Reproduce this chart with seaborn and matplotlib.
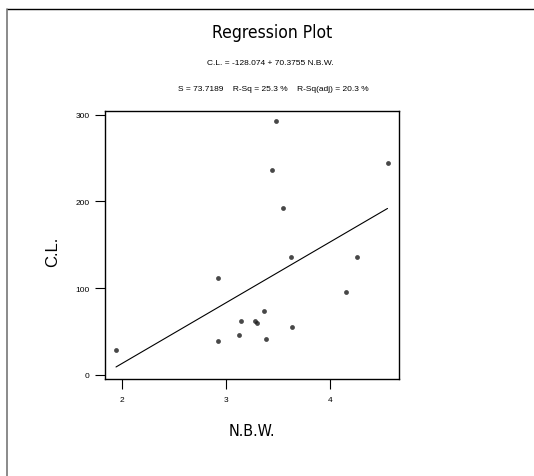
import matplotlib
matplotlib.use("Agg")
import matplotlib.pyplot as plt
from matplotlib.lines import Line2D
import seaborn as sns
import pandas as pd

# Daten
nbw = [1.94, 2.92, 2.92, 3.12, 3.14, 3.28, 3.30, 3.36, 3.38, 3.44,
       3.48, 3.55, 3.62, 3.63, 4.15, 4.26, 4.55]
cl = [28.4, 111.9, 38.7, 46.4, 61.7, 62.5, 59.4, 73.2, 41.0, 236.4,
      292.3, 192.7, 136.4, 55.2, 95.4, 135.6, 244.0]
x_ticks = [2, 3, 4]
y_ticks = [0, 100, 200, 300]

df = pd.DataFrame({"nbw": nbw, "cl": cl})

sns.set_style("white")
plt.rcParams["font.family"] = ["Liberation Sans", "DejaVu Sans"]
plt.rcParams["text.color"] = "black"

fig = plt.figure(figsize=(5.34, 4.77), dpi=100)
ax = fig.add_axes([0.1966, 0.2034, 0.5511, 0.5624])

sns.regplot(data=df, x="nbw", y="cl", ax=ax, ci=None, truncate=True,
            scatter_kws={"s": 12, "color": "#1a1a1a", "linewidths": 0},
            line_kws={"color": "black", "lw": 0.8})

ax.set_xlim(1.834, 4.663)
ax.set_ylim(-4.6, 304.6)
ax.set_xticks(x_ticks)
ax.set_yticks(y_ticks)
ax.tick_params(axis="both", direction="out", length=7, width=0.8,
               labelsize=6, colors="black", bottom=True, left=True)
ax.tick_params(axis="x", pad=5)
ax.tick_params(axis="y", pad=4)
for s in ax.spines.values():
    s.set_visible(True)
    s.set_color("black")
    s.set_linewidth(1.0)
ax.set_xlabel("")
ax.set_ylabel("")

# Texte (schmale Schrift wie im Original)
schmal = {"family": "DejaVu Sans", "fontstretch": "condensed"}
fig.text(0.509, 0.931, "Regression Plot", ha="center", va="center", fontsize=12.5, **schmal)
fig.text(0.507, 0.866, "C.L. = -128.074 + 70.3755 N.B.W.", ha="center", va="center", fontsize=6)
fig.text(0.511, 0.813, "S = 73.7189    R-Sq = 25.3 %    R-Sq(adj) = 20.3 %",
         ha="center", va="center", fontsize=6)
fig.text(0.099, 0.472, "C.L.", rotation=90, ha="center", va="center", fontsize=12)
fig.text(0.472, 0.0964, "N.B.W.", ha="center", va="center", fontsize=11.5, **schmal)

# Rahmen oben und links
fig.add_artist(Line2D([7 / 534, 1.0], [1 - 10 / 477] * 2, color="black", lw=1.0))
fig.add_artist(Line2D([7 / 534] * 2, [0.0, 1 - 10 / 477], color="#777777", lw=1.2))

fig.savefig("out.png", dpi=100)
